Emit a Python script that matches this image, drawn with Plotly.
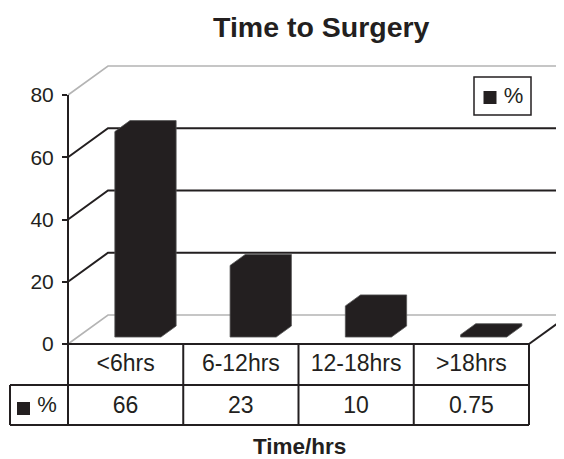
import plotly.graph_objects as go

# ---------------- data ----------------
categories = ["<6hrs", "6-12hrs", "12-18hrs", ">18hrs"]
values = [66, 23, 10, 0.75]
value_labels = ["66", "23", "10", "0.75"]
series_name = "%"
y_ticks = [0, 20, 40, 60, 80]
title_text = "Time to Surgery"
x_title = "Time/hrs"

# ---------------- style / layout constants ----------------
W, H = 564, 459
OFF = 8.0            # page body margin (figure drawn 8px in from the corner)
INK = "#231f20"
GRAY = "#b4b4b4"
FONT = "Liberation Sans, Arial, sans-serif"

X0 = 68.0            # screen px: front-left corner of floor
CAT = 115.25         # px per category
Y0 = 344.0           # screen px: value 0 on front plane
UNIT = 249.0 / 80.0  # px per value unit
DX_PX, DY_PX = 40.0, 29.0   # depth offset of back wall
T1, T2 = 0.24, 0.62         # bar front / back depth fraction
BAR_L, BAR_W = 0.323, 0.40  # bar position inside category
TABLE_LEFT_PX = 10.0
ROW1_PX, ROW2_PX = 385.0, 425.0


def px2x(px):
    return (px - X0) / CAT


def py2y(py):
    return (Y0 - py) / UNIT


def paper_x(px):
    return (px - OFF) / W


def paper_y(py):
    return 1 - (py - OFF) / H


DX = DX_PX / CAT
DY = DY_PX / UNIT
n = len(categories)
vmin, vmax = min(y_ticks), max(y_ticks)

fig = go.Figure()

# ---- walls / floor ----
gx, gy, bx, by = [], [], [], []
for v in y_ticks:
    xs = [0, DX, n + DX, None]
    ys = [v, DY + v, DY + v, None]
    if v in (vmin, vmax):
        gx += xs; gy += ys
    else:
        bx += xs; by += ys
bx += [n, n + DX, None]
by += [0, DY, None]

fig.add_trace(go.Scatter(x=gx, y=gy, mode="lines", line=dict(color=GRAY, width=1.6),
                         hoverinfo="skip", showlegend=False))
fig.add_trace(go.Scatter(x=bx, y=by, mode="lines", line=dict(color=INK, width=2),
                         hoverinfo="skip", showlegend=False))

# ---- 3D bars ----
ddx = (T2 - T1) * DX
for i, v in enumerate(values):
    a = i + BAR_L + T1 * DX
    b = a + BAR_W
    y1 = T1 * DY
    y2 = T2 * DY
    xs = [a, b, b + ddx, b + ddx, a + ddx, a, a]
    ys = [y1, y1, y2, y2 + v, y2 + v, y1 + v, y1]
    fig.add_trace(go.Scatter(x=xs, y=ys, mode="lines", fill="toself",
                             fillcolor=INK, line=dict(color="#555555", width=0.8),
                             name=categories[i], showlegend=False, hoverinfo="skip"))

# ---- data table ----
r1 = py2y(ROW1_PX)
r2 = py2y(ROW2_PX)
tl = px2x(TABLE_LEFT_PX)
tx, ty = [], []
tx += [0, n, None]; ty += [0, 0, None]
tx += [tl, n, None]; ty += [r1, r1, None]
tx += [tl, n, None]; ty += [r2, r2, None]
tx += [tl, tl, None]; ty += [r1, r2, None]
for i in range(n + 1):
    tx += [i, i, None]; ty += [0, r2, None]
fig.add_trace(go.Scatter(x=tx, y=ty, mode="lines", line=dict(color=INK, width=2),
                         hoverinfo="skip", showlegend=False))

centers = [i + 0.5 for i in range(n)]
fig.add_trace(go.Scatter(x=centers, y=[py2y(365.5)] * n, mode="text", text=categories,
                         textfont=dict(family=FONT, size=23, color=INK),
                         cliponaxis=False, hoverinfo="skip", showlegend=False))
fig.add_trace(go.Scatter(x=centers, y=[py2y(407)] * n, mode="text", text=value_labels,
                         textfont=dict(family=FONT, size=23, color=INK),
                         cliponaxis=False, hoverinfo="skip", showlegend=False))

# row header: marker + series name
fig.add_trace(go.Scatter(x=[px2x(23.5)], y=[py2y(408.5)], mode="markers",
                         marker=dict(symbol="square", size=13, color=INK),
                         hoverinfo="skip", showlegend=False))
fig.add_trace(go.Scatter(x=[px2x(47)], y=[py2y(406)], mode="text", text=[series_name],
                         textfont=dict(family=FONT, size=22, color=INK),
                         cliponaxis=False, hoverinfo="skip", showlegend=False))

# legend (boxed)
fig.add_shape(type="rect", xref="x", yref="y", layer="below",
              x0=px2x(474), x1=px2x(531), y0=py2y(77), y1=py2y(115),
              line=dict(color=INK, width=1.5), fillcolor="white")
fig.add_trace(go.Scatter(x=[px2x(490)], y=[py2y(97.5)], mode="markers",
                         marker=dict(symbol="square", size=13, color=INK),
                         hoverinfo="skip", showlegend=False))
fig.add_trace(go.Scatter(x=[px2x(513.5)], y=[py2y(97)], mode="text", text=[series_name],
                         textfont=dict(family=FONT, size=22, color=INK),
                         cliponaxis=False, hoverinfo="skip", showlegend=False))

# empty trace to hold the visible value axis
fig.add_trace(go.Scatter(x=[], y=[], xaxis="x2", yaxis="y2", showlegend=False))

# ---- titles ----
fig.add_annotation(text="<b>%s</b>" % title_text, xref="paper", yref="paper",
                   x=paper_x(321.5), y=paper_y(27), xanchor="center", yanchor="middle",
                   showarrow=False, font=dict(family=FONT, size=28.5, color=INK))
fig.add_annotation(text="<b>%s</b>" % x_title, xref="paper", yref="paper",
                   x=paper_x(299), y=paper_y(446), xanchor="center", yanchor="middle",
                   showarrow=False, font=dict(family=FONT, size=22.5, color=INK))

fig.update_layout(
    width=W, height=H, autosize=False,
    margin=dict(l=0, r=0, t=0, b=0, autoexpand=False),
    paper_bgcolor="white", plot_bgcolor="rgba(0,0,0,0)",
    showlegend=False,
    xaxis=dict(range=[px2x(OFF), px2x(OFF + W)], domain=[0, 1], visible=False, fixedrange=True),
    yaxis=dict(range=[py2y(OFF + H), py2y(OFF)], domain=[0, 1], visible=False, fixedrange=True),
    xaxis2=dict(range=[0, n], domain=[paper_x(X0), paper_x(X0 + n * CAT)], anchor="y2",
                visible=False, fixedrange=True),
    yaxis2=dict(range=[vmin, vmax], domain=[paper_y(Y0), paper_y(Y0 - vmax * UNIT)],
                anchor="free", position=paper_x(X0), tickvals=y_ticks,
                showline=True, linecolor=INK, linewidth=2,
                ticks="outside", ticklen=5, tickwidth=2, tickcolor=INK,
                ticklabelstandoff=4,
                showgrid=False, zeroline=False, fixedrange=True,
                tickfont=dict(family=FONT, size=21, color=INK)),
)

fig.write_html("out.html")
